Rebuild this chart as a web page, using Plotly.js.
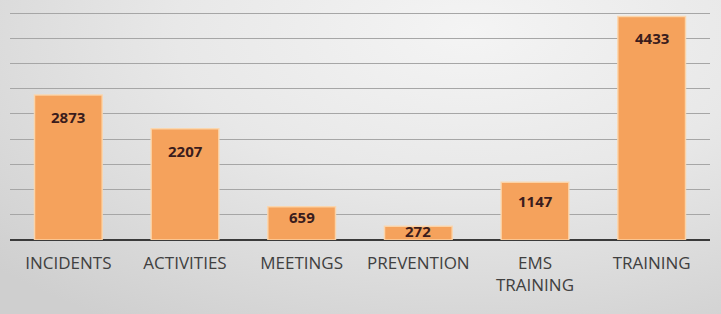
<!DOCTYPE html>
<html>
<head>
<meta charset="utf-8">
<script src="https://cdn.plot.ly/plotly-3.0.1.min.js"></script>
<style>
  html, body { margin: 0; padding: 0; }
  #chart {
    width: 721px; height: 314px;
    background: radial-gradient(ellipse 90% 110% at 65% 10%, #f4f4f4 0%, #e8e8e8 45%, #d8d8d8 80%, #cfcfcf 100%);
  }
</style>
</head>
<body>
<div id="chart"></div>
<script>
const categories = ["INCIDENTS", "ACTIVITIES", "MEETINGS", "PREVENTION", "EMS<br>TRAINING", "TRAINING"];
const values = [2873, 2207, 659, 272, 1147, 4433];
const yMax = 4520;
const gridStep = 500;

const plotTop = 12, plotBottom = 240;
const pxPerUnit = (plotBottom - plotTop) / yMax;

const trace = {
  type: 'bar',
  x: categories,
  y: values,
  marker: { color: '#f5a25c', line: { color: 'rgba(252,214,172,0.9)', width: 1.5 } },
  hoverinfo: 'none'
};

const annotations = values.map((v, i) => ({
  x: categories[i], y: v, xref: 'x', yref: 'y',
  text: String(v), showarrow: false,
  yanchor: 'middle',
  yshift: -Math.min(22, 0.32 * v * pxPerUnit),
  font: { family: 'Open Sans, sans-serif', size: 15, color: '#3a1c1c', weight: 'bold' }
}));

const layout = {
  width: 721, height: 314,
  margin: { l: 10, r: 11, t: plotTop, b: 314 - plotBottom },
  paper_bgcolor: 'rgba(0,0,0,0)',
  plot_bgcolor: 'rgba(0,0,0,0)',
  bargap: 0.42,
  showlegend: false,
  xaxis: {
    type: 'category',
    showgrid: false, zeroline: false, showline: false,
    ticks: '', ticklabelstandoff: 11,
    tickfont: { family: 'Open Sans, sans-serif', size: 17, color: '#404040' }
  },
  yaxis: {
    range: [0, yMax], dtick: gridStep, tick0: 0,
    showticklabels: false, ticks: '',
    showgrid: true, gridcolor: '#a6a6a6', gridwidth: 1,
    zeroline: true, zerolinecolor: '#3a3a3a', zerolinewidth: 2.5
  },
  annotations: annotations
};

Plotly.newPlot('chart', [trace], layout, { displayModeBar: false, staticPlot: true });
</script>
</body>
</html>
